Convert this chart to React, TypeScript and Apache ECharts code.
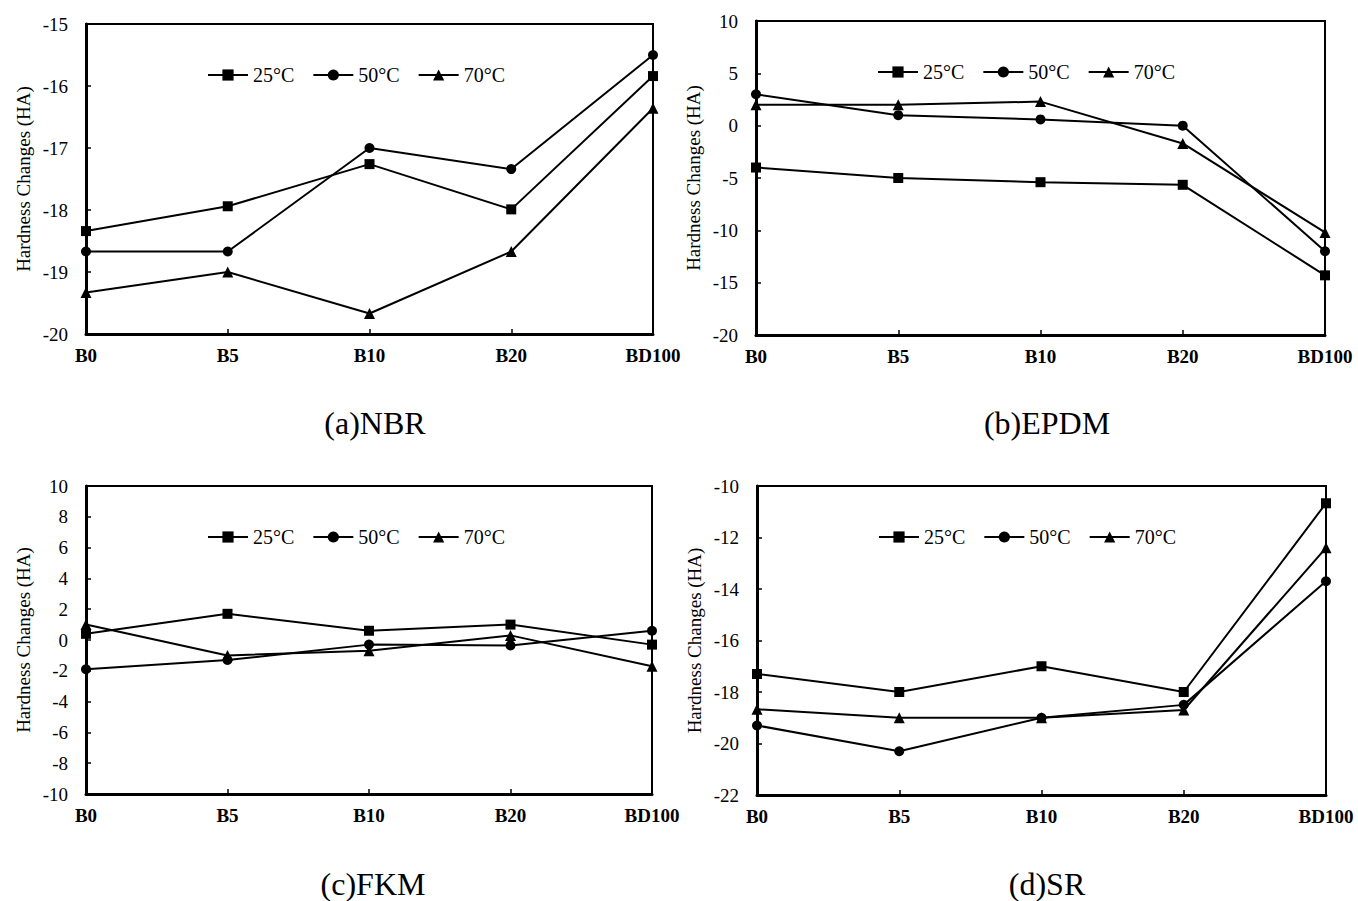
import React, { useEffect, useRef } from "react";
import * as echarts from "echarts";

const categories = ["B0", "B5", "B10", "B20", "BD100"];
const temps = ["25°C", "50°C", "70°C"];
const symbols = ["rect", "circle", "triangle"];
const symbolSizes = [10, 10, 11];

// (a) NBR
const nbr25 = [-18.34, -17.94, -17.26, -17.99, -15.84];
const nbr50 = [-18.67, -18.67, -17.0, -17.34, -15.5];
const nbr70 = [-19.33, -19.0, -19.67, -18.67, -16.36];
// (b) EPDM
const epdm25 = [-4.0, -5.0, -5.4, -5.65, -14.3];
const epdm50 = [3.0, 1.0, 0.6, 0.0, -12.0];
const epdm70 = [2.0, 2.0, 2.3, -1.7, -10.2];
// (c) FKM
const fkm25 = [0.4, 1.7, 0.6, 1.0, -0.3];
const fkm50 = [-1.9, -1.3, -0.3, -0.35, 0.6];
const fkm70 = [1.0, -1.0, -0.7, 0.3, -1.7];
// (d) SR
const sr25 = [-17.3, -18.0, -17.0, -18.0, -10.67];
const sr50 = [-19.3, -20.3, -19.0, -18.5, -13.7];
const sr70 = [-18.67, -19.0, -19.0, -18.7, -12.4];

const panelTitles = ["(a)NBR", "(b)EPDM", "(c)FKM", "(d)SR"];
const yMins = [-20, -20, -10, -22];
const yMaxs = [-15, 10, 10, -10];
const yIntervals = [1, 5, 2, 2];
const panelData = [
  [nbr25, nbr50, nbr70],
  [epdm25, epdm50, epdm70],
  [fkm25, fkm50, fkm70],
  [sr25, sr50, sr70],
];

const FONT = "Liberation Serif";

const grids = [
  { left: 86, top: 24, width: 567, height: 310 },
  { left: 756, top: 21, width: 569, height: 314 },
  { left: 86, top: 486, width: 566, height: 308 },
  { left: 757, top: 486, width: 569, height: 309 },
];
const captions = [
  { x: 375, y: 423 },
  { x: 1047, y: 423 },
  { x: 373, y: 884 },
  { x: 1047, y: 884 },
];

export default function App() {
  const ref = useRef<HTMLDivElement>(null);
  useEffect(() => {
    if (!ref.current) return;
    const chart = echarts.init(ref.current, undefined, { renderer: "svg" });
    const series: any[] = [];
    panelData.forEach((pd, i) => {
      pd.forEach((d, j) => {
        series.push({
          type: "line",
          name: temps[j],
          xAxisIndex: i,
          yAxisIndex: i,
          data: d,
          symbol: symbols[j],
          symbolSize: symbolSizes[j],
          showSymbol: true,
          clip: false,
          lineStyle: { color: "#000", width: 2 },
          itemStyle: { color: "#000" },
          z: 3,
        });
      });
    });
    const option: any = {
      animation: false,
      backgroundColor: "#fff",
      grid: grids.map((g) => ({
        ...g,
        show: true,
        borderColor: "#000",
        borderWidth: 2,
        backgroundColor: "transparent",
      })),
      xAxis: grids.map((_, i) => ({
        type: "category",
        gridIndex: i,
        data: categories,
        boundaryGap: false,
        axisLine: { onZero: false, lineStyle: { color: "#000", width: 3 } },
        axisTick: { show: true, inside: true, length: 5, lineStyle: { color: "#000", width: 1.5 } },
        axisLabel: {
          color: "#000",
          fontFamily: FONT,
          fontSize: 19,
          fontWeight: "bold",
          margin: 12,
          interval: 0,
        },
        splitLine: { show: false },
      })),
      yAxis: grids.map((_, i) => ({
        type: "value",
        gridIndex: i,
        min: yMins[i],
        max: yMaxs[i],
        interval: yIntervals[i],
        name: "Hardness Changes (HA)",
        nameLocation: "middle",
        nameGap: 53,
        nameTextStyle: { color: "#000", fontFamily: FONT, fontSize: 19 },
        axisLine: { show: true, lineStyle: { color: "#000", width: 3 } },
        axisTick: { show: true, inside: true, length: 5, lineStyle: { color: "#000", width: 1.5 } },
        axisLabel: { color: "#000", fontFamily: FONT, fontSize: 19, margin: 18 },
        splitLine: { show: false },
      })),
      legend: grids.map((g) => ({
        data: temps,
        left: g.left + 121,
        top: g.top + 41,
        padding: 0,
        orient: "horizontal",
        itemWidth: 40,
        itemHeight: 14,
        itemGap: 18,
        selectedMode: false,
        textStyle: { color: "#000", fontFamily: FONT, fontSize: 20 },
      })),
      graphic: panelTitles.map((t, i) => ({
        type: "text",
        x: captions[i].x,
        y: captions[i].y,
        style: {
          text: t,
          font: `32px ${FONT}`,
          fill: "#000",
          textAlign: "center",
          textVerticalAlign: "middle",
        },
      })),
      series,
    };
    chart.setOption(option);
    return () => chart.dispose();
  }, []);
  return (
    <div
      ref={ref}
      style={{ position: "absolute", left: 0, top: 0, width: 1358, height: 901, background: "#fff" }}
    />
  );
}
